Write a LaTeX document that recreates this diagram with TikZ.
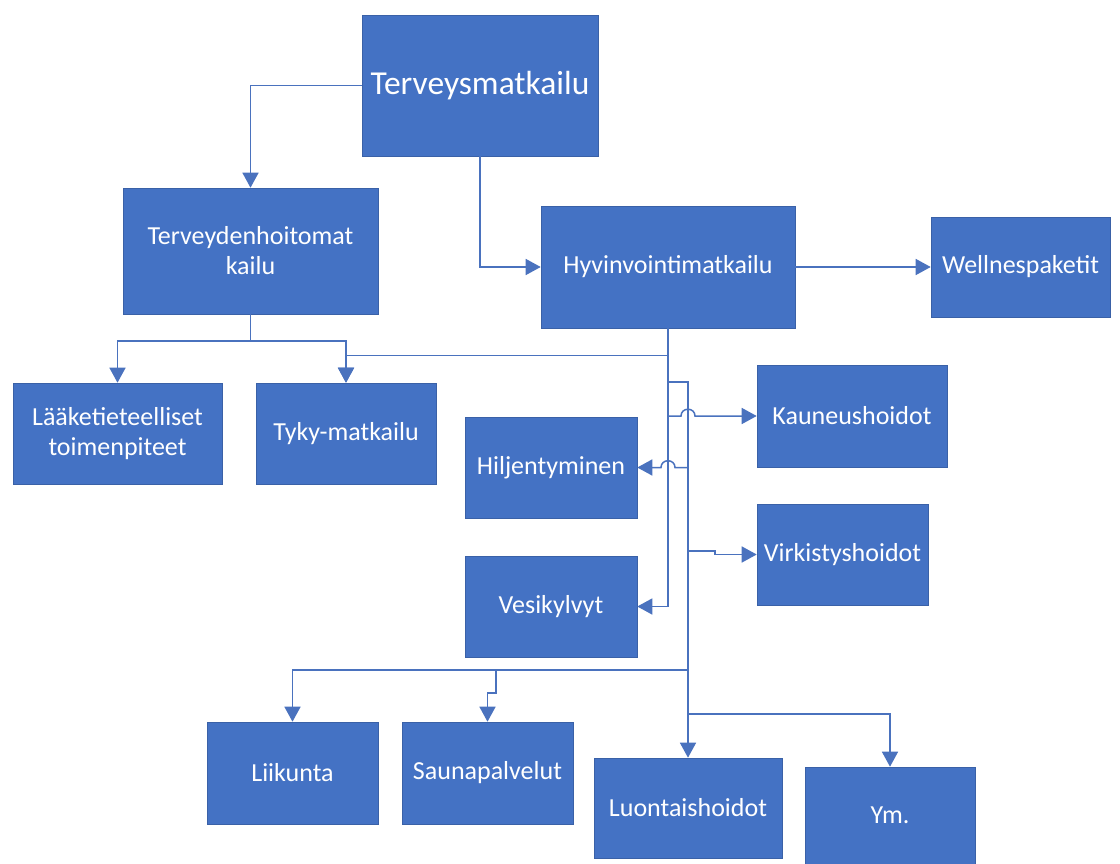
\documentclass[tikz,border=0pt]{standalone}
\usepackage{fontspec}
\setmainfont{Carlito}
\usetikzlibrary{arrows.meta}
\definecolor{boxblue}{HTML}{4472C4}
\definecolor{lineblue}{HTML}{4A72BE}
\begin{document}
\begin{tikzpicture}[x=1pt,y=-1pt,
  box/.style={draw=boxblue!85!black, line width=0.6pt, fill=boxblue, text=white, inner sep=2pt, align=center,
    font=\fontsize{26}{30}\selectfont},
  conn/.style={draw=lineblue, line width=1.5pt},
  arr/.style={conn, -{Triangle[width=16pt,length=15pt]}}]
\useasboundingbox (0,0) rectangle (1120,864);
\fill[white] (0,0) rectangle (1120,864);
% nodes
\node[box, minimum width=236, minimum height=141, font=\fontsize{33.5}{40}\selectfont] (T) at (480,85.5) {Terveysmatkailu};
\node[box, minimum width=255, minimum height=126] (TH) at (250.5,251) {Terveydenhoitomat\\kailu};
\node[box, minimum width=254, minimum height=122] (HV) at (668,267) {Hyvinvointimatkailu};
\node[box, minimum width=179, minimum height=100] (W) at (1020.5,267) {Wellnespaketit};
\node[box, minimum width=209, minimum height=101] (L) at (117.5,433.5) {Lääketieteelliset\\toimenpiteet};
\node[box, minimum width=180, minimum height=101] (TY) at (346,433.5) {Tyky-matkailu};
\node[box, minimum width=190, minimum height=102] (K) at (852,416) {Kauneushoidot};
\node[box, minimum width=172, minimum height=101] (HI) at (551,467.5) {Hiljentyminen};
\node[box, minimum width=171, minimum height=101] (VI) at (842.5,554.5) {Virkistyshoidot};
\node[box, minimum width=172, minimum height=101] (VE) at (551,606.5) {Vesikylvyt};
\node[box, minimum width=171, minimum height=102] (LI) at (292.5,773) {Liikunta};
\node[box, minimum width=171, minimum height=102] (S) at (487.5,773) {Saunapalvelut};
\node[box, minimum width=188, minimum height=100] (LU) at (688,808) {Luontaishoidot};
\node[box, minimum width=170, minimum height=97] (Y) at (890,815.5) {Ym.};
% junction coordinates
\coordinate (j1) at (250.5,341);
\coordinate (a1) at (668,382);
\coordinate (b1) at (688,382);
\coordinate (av) at (668,416);
\coordinate (bh) at (688,467.5);
\coordinate (bv) at (688,551);
\coordinate (bl) at (688,670);
\coordinate (sj) at (496,670);
\coordinate (by) at (688,714);
% connectors
\draw[arr] (T.west) -| (TH.north);
\draw[arr] (T.south) |- (HV.west);
\draw[arr] (HV.east) -- (HV.east -| W.west);
\draw[conn] (TH.south) -- (j1);
\draw[arr] (j1) -| (L.north);
\draw[arr] (j1) -| (TY.north);
\draw[arr] (HV.south) -- ++(0,27) -| (TY.north);
\draw[arr] (HV.south) |- (VE.east);
\draw[arr] (a1) -- (b1) -- (LU.north);
\draw[arr] (av) -- (681,416) .. controls (681,407) and (695,407) .. (695,416) -- (K.west);
\draw[arr] (bh) -- (675,467.5) .. controls (675,458.5) and (661,458.5) .. (661,467.5) -- (HI.east);
\draw[arr] (bv) -- (715,551) -- (715,554.5) -- (VI.west);
\draw[arr] (bl) -| (LI.north);
\draw[arr] (sj) -- (496,693) -- (487.5,693) -- (S.north);
\draw[arr] (by) -| (Y.north);
\end{tikzpicture}
\end{document}
